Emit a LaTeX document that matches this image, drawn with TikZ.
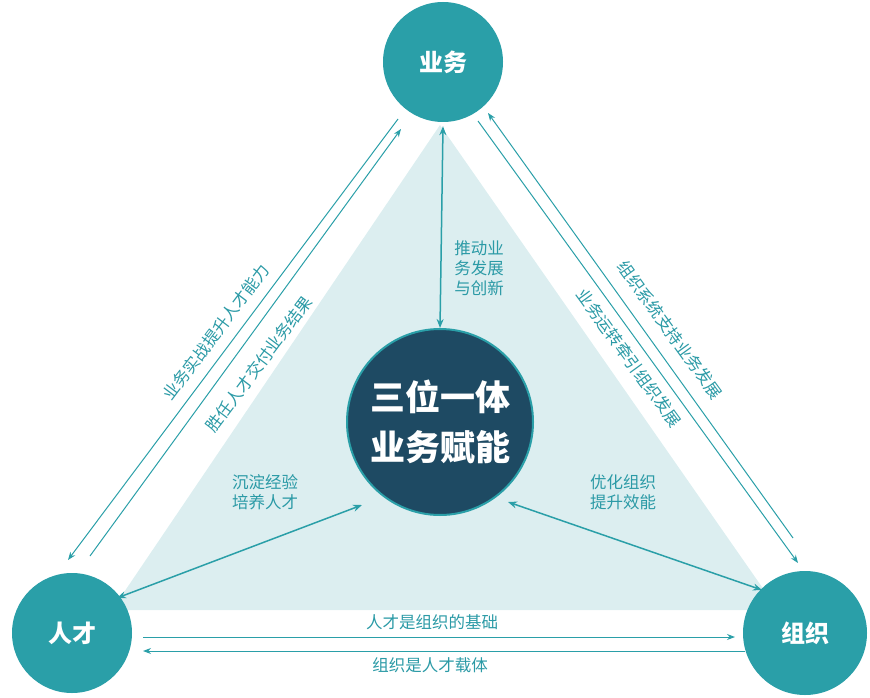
\documentclass[tikz,border=0pt]{standalone}
\usepackage{fontspec}
\newfontfamily\cjk{Noto Sans CJK SC}
\usetikzlibrary{arrows.meta}
\definecolor{teal1}{HTML}{2A9FA8}
\definecolor{navy}{HTML}{1E4A63}
\definecolor{txt}{HTML}{2B9AA6}
\definecolor{bgtri}{HTML}{DCEEF0}
\tikzset{
 big/.style={circle,fill=teal1,minimum size=120pt,inner sep=0pt,text=white,font=\cjk\bfseries\fontsize{24}{26}\selectfont},
 core/.style={circle,fill=navy,draw=teal1,line width=2pt,minimum size=186pt,inner sep=0pt,text=white,align=center,font=\cjk\bfseries\fontsize{35}{50}\selectfont},
 arr/.style={draw=teal1,line width=1pt,-{Stealth[length=8pt,width=6pt]}},
 darr/.style={draw=teal1,line width=1.5pt,{Stealth[length=9pt,width=7pt]}-{Stealth[length=9pt,width=7pt]}},
 lbl/.style={text=txt,font=\cjk\fontsize{16.5}{20}\selectfont,inner sep=1pt},
}
\begin{document}
\begin{tikzpicture}[x=1pt,y=-1pt]
\useasboundingbox (0,0) rectangle (870,698);
\fill[bgtri] (440,125) -- (112,610) -- (778,610) -- cycle;
\node[big] (yw) at (443,62) {业务};
\node[big] (rc) at (72,633) {人才};
\node[big,minimum size=124pt] (zz) at (805,633) {组织};
\node[core] (c) at (440,422) {三位一体\\业务赋能};
% left pair
\coordinate (l1a) at (398,119); \coordinate (l1b) at (68,560);
\coordinate (l2a) at (90,556); \coordinate (l2b) at (401,129);
\draw[arr] (l1a) -- (l1b);
\draw[arr] (l2a) -- (l2b);
\node[lbl,rotate=53] (tl1) at (216,332) {业务实战提升人才能力};
\node[lbl,rotate=53] (tl2) at (259,364) {胜任人才交付业务结果};
% right pair
\coordinate (r1a) at (793,538); \coordinate (r1b) at (488,113);
\coordinate (r2a) at (478,121); \coordinate (r2b) at (798,563);
\draw[arr] (r1a) -- (r1b);
\draw[arr] (r2a) -- (r2b);
\node[lbl,rotate=-54] (tr1) at (670,330) {组织系统支持业务发展};
\node[lbl,rotate=-54] (tr2) at (629,358) {业务运转牵引组织发展};
% bottom pair
\coordinate (b1a) at (143,637); \coordinate (b1b) at (735,637);
\coordinate (b2a) at (745,651); \coordinate (b2b) at (143,651);
\draw[arr] (b1a) -- (b1b);
\draw[arr] (b2a) -- (b2b);
\node[lbl] (tb1) at (432,622) {人才是组织的基础};
\node[lbl] (tb2) at (430,665) {组织是人才载体};
% inner arrows
\draw[darr] (yw.south) ++(0,4) coordinate (v1) (v1) -- (c.north);
\node[lbl,align=left] (tv) at (479,268) {推动业\\务发展\\与创新};
\coordinate (d1) at (117,598); \coordinate (d2) at (362,505);
\draw[darr] (d1) -- (d2);
\node[lbl,align=left] (td1) at (265,492) {沉淀经验\\培养人才};
\coordinate (e1) at (508,502); \coordinate (e2) at (762,590);
\draw[darr] (e1) -- (e2);
\node[lbl,align=left] (te1) at (623,492) {优化组织\\提升效能};
\end{tikzpicture}
\end{document}
